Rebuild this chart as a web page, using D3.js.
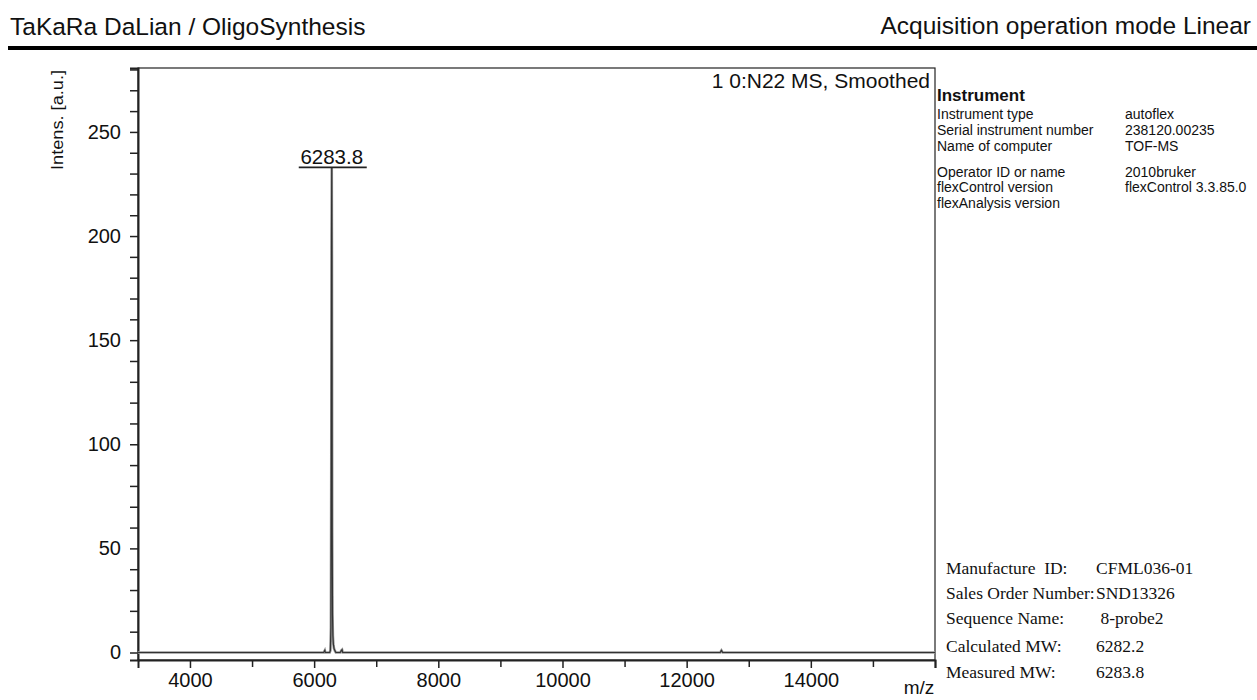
<!DOCTYPE html>
<html>
<head>
<meta charset="utf-8">
<script src="https://cdn.jsdelivr.net/npm/d3@7"></script>
<style>
  html, body { margin: 0; padding: 0; background: #fff; }
  svg { display: block; }
  text { font-family: "Liberation Sans", Arial, sans-serif; fill: #111; white-space: pre; }
  .serif { font-family: "Liberation Serif", "Times New Roman", serif; }
</style>
</head>
<body>
<svg id="chart" width="1257" height="700"></svg>
<script>
// Spectrum profile (m/z, intensity in a.u.)
const mzValues = [3160, 6150, 6165, 6172, 6180, 6250, 6262, 6270, 6276, 6280, 6283.8, 6287, 6291, 6296, 6302, 6310, 6320, 6335, 6350, 6420, 6440, 6450, 6460, 6480, 12540, 12560, 12580, 16000];
const intensityValues = [0, 0, 0.6, 1.0, 0, 0, 1, 12, 95, 200, 233, 190, 60, 18, 8, 4, 2, 0.8, 0, 0, 1.0, 1.3, 0, 0, 0, 1.0, 0, 0];

// Labelled peak
const peakMz = 6283.8;
const peakIntensity = 233;

// Axis ticks
const xMajorTicks = [4000, 6000, 8000, 10000, 12000, 14000, 16000];
const xTickLabels = ["4000", "6000", "8000", "10000", "12000", "14000", ""];
const xMinorTicks = [5000, 7000, 9000, 11000, 13000, 15000];
const yMajorTicks = [0, 50, 100, 150, 200, 250];
const yMinorTicks = [10, 20, 30, 40, 60, 70, 80, 90, 110, 120, 130, 140, 160, 170, 180, 190, 210, 220, 230, 240, 260, 270, 280];

// Instrument info panel
const infoLabels = ["Instrument type", "Serial instrument number", "Name of computer", "Operator ID or name", "flexControl version", "flexAnalysis version"];
const infoValues = ["autoflex", "238120.00235", "TOF-MS", "2010bruker", "flexControl 3.3.85.0", ""];

// Sample info panel
const sampleLabels = ["Manufacture  ID:", "Sales Order Number:", "Sequence Name:", "Calculated MW:", "Measured MW:"];
const sampleValues = ["CFML036-01", "SND13326", " 8-probe2", "6282.2", "6283.8"];

const svg = d3.select("#chart");

const plot = { left: 138, right: 935, top: 68, bottom: 660 };

const x = d3.scaleLinear().domain([3163, 16000]).range([plot.left, plot.right]);
const y = d3.scaleLinear().domain([-3.6, 280.7]).range([plot.bottom, plot.top]);

// Header
svg.append("text").attr("x", 10).attr("y", 35)
  .style("font-size", "24.5px").text("TaKaRa DaLian / OligoSynthesis");
svg.append("text").attr("x", 1251).attr("y", 34).attr("text-anchor", "end")
  .style("font-size", "24.5px").text("Acquisition operation mode Linear");
svg.append("rect").attr("x", 8).attr("y", 46).attr("width", 1249).attr("height", 4).attr("fill", "#000");

// Plot frame
svg.append("rect")
  .attr("x", plot.left).attr("y", plot.top)
  .attr("width", plot.right - plot.left).attr("height", plot.bottom - plot.top)
  .attr("fill", "none").attr("stroke", "#222").attr("stroke-width", 1.2);

// Y axis
const yAxis = d3.axisLeft(y)
  .tickValues(yMajorTicks)
  .tickSize(8)
  .tickPadding(9)
  .tickFormat(d3.format("d"));
const gy = svg.append("g").attr("transform", `translate(${plot.left},0)`).call(yAxis);
gy.select(".domain").attr("stroke", "#222").attr("stroke-width", 2);
gy.selectAll(".tick line").attr("stroke", "#222").attr("stroke-width", 1.5);
gy.selectAll(".tick text").style("font-size", "20px")
  .style("font-family", "'Liberation Sans', Arial, sans-serif").attr("fill", "#111");

const yMinor = d3.axisLeft(y).tickValues(yMinorTicks).tickSize(8).tickFormat("");
const gyMinor = svg.append("g").attr("transform", `translate(${plot.left},0)`).call(yMinor);
gyMinor.select(".domain").remove();
gyMinor.selectAll(".tick line").attr("stroke", "#222").attr("stroke-width", 1.5);

// X axis
const xAxis = d3.axisBottom(x)
  .tickValues(xMajorTicks)
  .tickSize(8)
  .tickPadding(5)
  .tickFormat((d, i) => xTickLabels[i]);
const gx = svg.append("g").attr("transform", `translate(0,${plot.bottom})`).call(xAxis);
gx.select(".domain").attr("stroke", "#222").attr("stroke-width", 2);
gx.selectAll(".tick line").attr("stroke", "#222").attr("stroke-width", 1.5);
gx.selectAll(".tick text").style("font-size", "20px")
  .style("font-family", "'Liberation Sans', Arial, sans-serif").attr("fill", "#111");

const xMinor = d3.axisBottom(x).tickValues(xMinorTicks).tickSize(7).tickFormat("");
const gxMinor = svg.append("g").attr("transform", `translate(0,${plot.bottom})`).call(xMinor);
gxMinor.select(".domain").remove();
gxMinor.selectAll(".tick line").attr("stroke", "#222").attr("stroke-width", 1.5);

// Axis titles
svg.append("text").attr("transform", "translate(63,120) rotate(-90)")
  .attr("text-anchor", "middle").style("font-size", "16px")
  .attr("textLength", 100).attr("lengthAdjust", "spacingAndGlyphs")
  .text("Intens. [a.u.]");
svg.append("text").attr("x", 919).attr("y", 694).attr("text-anchor", "middle")
  .style("font-size", "19px").text("m/z");

// Spectrum name
svg.append("text").attr("x", 930).attr("y", 88).attr("text-anchor", "end")
  .style("font-size", "21px").text("1 0:N22 MS, Smoothed");

// Spectrum trace
const spectrum = mzValues.map((m, i) => [m, intensityValues[i]]);
const line = d3.line().x(d => x(d[0])).y(d => y(d[1]));

// grey halo under the trace, then the trace itself
svg.append("path").datum(spectrum)
  .attr("d", line).attr("fill", "none")
  .attr("stroke", "#999").attr("stroke-width", 2.6);
svg.append("path").datum(spectrum)
  .attr("d", line).attr("fill", "none")
  .attr("stroke", "#333").attr("stroke-width", 1.2);

// Peak label
const px = x(peakMz), py = y(peakIntensity);
svg.append("line").attr("x1", px - 33).attr("x2", px + 35)
  .attr("y1", py).attr("y2", py).attr("stroke", "#222").attr("stroke-width", 1.6);
svg.append("text").attr("x", px).attr("y", py - 3).attr("text-anchor", "middle")
  .style("font-size", "20.5px").text(peakMz.toFixed(1));

// Instrument panel
const info = svg.append("g").attr("transform", "translate(937,0)");
info.append("text").attr("x", 0).attr("y", 101)
  .style("font-size", "17px").style("font-weight", "bold").text("Instrument");
const infoY = [119, 135, 151, 177, 192, 208];
infoLabels.forEach((t, i) => {
  info.append("text").attr("x", 0).attr("y", infoY[i])
    .style("font-size", "14px").text(t);
  if (infoValues[i]) {
    info.append("text").attr("x", 188).attr("y", infoY[i])
      .style("font-size", "14px").text(infoValues[i]);
  }
});

// Sample panel
const sample = svg.append("g");
const sampleY = [574, 599, 624, 652, 678];
sampleLabels.forEach((t, i) => {
  sample.append("text").attr("class", "serif").attr("x", 946).attr("y", sampleY[i])
    .style("font-size", "17.5px").text(t);
  sample.append("text").attr("class", "serif").attr("x", 1096).attr("y", sampleY[i])
    .style("font-size", "17.5px").text(sampleValues[i]);
});
</script>
</body>
</html>
